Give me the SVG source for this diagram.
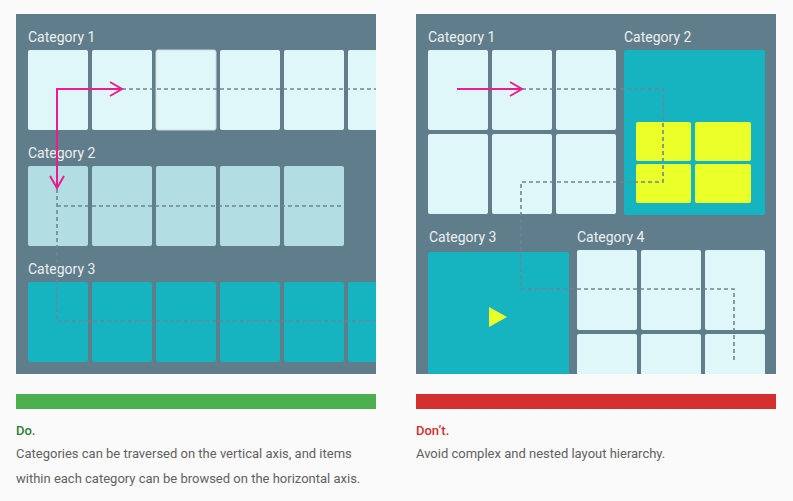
<svg xmlns="http://www.w3.org/2000/svg" width="793" height="501" viewBox="0 0 793 501">
<style>
.bg{fill:#fafafa}
.panel{fill:#607d8b}
.lbl{font-family:Roboto,"Liberation Sans",sans-serif;font-size:14px;fill:#eceff1}
.t1{fill:#e0f7fa}
.t2{fill:#b2dde2}
.t3{fill:#16b3c1}
.yl{fill:#ebff29}
.dash{fill:none;stroke:#6c8794;stroke-width:1.6;stroke-dasharray:4 3}
.pink{fill:none;stroke:#ec1c8e;stroke-width:2}
.hd{font-family:Roboto,"Liberation Sans",sans-serif;font-size:13px;font-weight:500}
.body{font-family:Roboto,"Liberation Sans",sans-serif;font-size:13px;fill:#616161}
</style>
<defs>
<clipPath id="cl"><rect x="16" y="14" width="360" height="360"/></clipPath>
<clipPath id="cr"><rect x="416" y="14" width="360" height="360"/></clipPath>
</defs>
<rect class="bg" x="0" y="0" width="793" height="501"/>

<g id="do-panel" clip-path="url(#cl)">
<rect class="panel" x="16" y="14" width="360" height="360"/>
<g id="do-cat1">
<text class="lbl" x="28" y="42">Category 1</text>
<rect class="t1" x="28" y="50" width="60" height="80" rx="2"/>
<rect class="t1" x="92" y="50" width="60" height="80" rx="2"/>
<rect class="t1" x="156" y="50" width="60" height="80" rx="2" stroke="#cfd8dc" stroke-width="1"/>
<rect class="t1" x="220" y="50" width="60" height="80" rx="2"/>
<rect class="t1" x="284" y="50" width="60" height="80" rx="2"/>
<rect class="t1" x="348" y="50" width="60" height="80" rx="2"/>
</g>
<g id="do-cat2">
<text class="lbl" x="28" y="158">Category 2</text>
<rect class="t2" x="28" y="166" width="60" height="80" rx="2"/>
<rect class="t2" x="92" y="166" width="60" height="80" rx="2"/>
<rect class="t2" x="156" y="166" width="60" height="80" rx="2"/>
<rect class="t2" x="220" y="166" width="60" height="80" rx="2"/>
<rect class="t2" x="284" y="166" width="60" height="80" rx="2"/>
</g>
<g id="do-cat3">
<text class="lbl" x="28" y="274">Category 3</text>
<rect class="t3" x="28" y="282" width="60" height="80" rx="2"/>
<rect class="t3" x="92" y="282" width="60" height="80" rx="2"/>
<rect class="t3" x="156" y="282" width="60" height="80" rx="2"/>
<rect class="t3" x="220" y="282" width="60" height="80" rx="2"/>
<rect class="t3" x="284" y="282" width="60" height="80" rx="2"/>
<rect class="t3" x="348" y="282" width="60" height="80" rx="2"/>
</g>
</g>

<g id="dont-panel" clip-path="url(#cr)">
<rect class="panel" x="416" y="14" width="360" height="360"/>
<g id="dont-cat1">
<text class="lbl" x="428" y="42">Category 1</text>
<rect class="t1" x="428" y="50" width="60" height="80" rx="2"/>
<rect class="t1" x="492" y="50" width="60" height="80" rx="2"/>
<rect class="t1" x="556" y="50" width="60" height="80" rx="2"/>
<rect class="t1" x="428" y="134" width="60" height="80" rx="2"/>
<rect class="t1" x="492" y="134" width="60" height="80" rx="2"/>
<rect class="t1" x="556" y="134" width="60" height="80" rx="2"/>
</g>
<g id="dont-cat2">
<text class="lbl" x="624" y="42">Category 2</text>
<rect class="t3" x="624" y="50" width="141" height="165" rx="2"/>
<rect class="yl" x="636" y="122" width="55" height="39" rx="2"/>
<rect class="yl" x="695" y="122" width="56" height="39" rx="2"/>
<rect class="yl" x="636" y="164" width="55" height="39" rx="2"/>
<rect class="yl" x="695" y="164" width="56" height="39" rx="2"/>
</g>
<g id="dont-cat3">
<text class="lbl" x="429" y="242">Category 3</text>
<rect class="t3" x="428" y="252" width="141" height="130" rx="2"/>
<polygon class="yl" points="489,307 489,327 507,317"/>
</g>
<g id="dont-cat4">
<text class="lbl" x="577" y="242">Category 4</text>
<rect class="t1" x="577" y="250" width="60" height="80" rx="2"/>
<rect class="t1" x="641" y="250" width="60" height="80" rx="2"/>
<rect class="t1" x="705" y="250" width="60" height="80" rx="2"/>
<rect class="t1" x="577" y="334" width="60" height="80" rx="2"/>
<rect class="t1" x="641" y="334" width="60" height="80" rx="2"/>
<rect class="t1" x="705" y="334" width="60" height="80" rx="2"/>
</g>
</g>

<g id="connectors">
<g clip-path="url(#cl)">
<path class="dash" d="M122 89 H376"/>
<path class="dash" d="M57 189 V321 H376"/>
<path class="dash" d="M57 206 H344"/>
</g>
<path class="dash" d="M522 89 H663 V182 H521 V289 H734 V362"/>
<path class="pink" d="M57 188 V89 H122"/>
<path class="pink" d="M110 82 L122 89 L110 96"/>
<path class="pink" d="M50 176 L57 188 L64 176"/>
<path class="pink" d="M457 89 H522"/>
<path class="pink" d="M510 82 L522 89 L510 96"/>
</g>

<g id="do-caption">
<rect x="16" y="394" width="360" height="15" fill="#4caf50"/>
<text class="hd" x="16" y="435" fill="#2e7d32">Do.</text>
<text class="body" x="16" y="458">Categories can be traversed on the vertical axis, and items</text>
<text class="body" x="16" y="483">within each category can be browsed on the horizontal axis.</text>
</g>
<g id="dont-caption">
<rect x="416" y="394" width="360" height="15" fill="#d32f2f"/>
<text class="hd" x="416" y="435" fill="#d32f2f">Don’t.</text>
<text class="body" x="416" y="458">Avoid complex and nested layout hierarchy.</text>
</g>
</svg>
